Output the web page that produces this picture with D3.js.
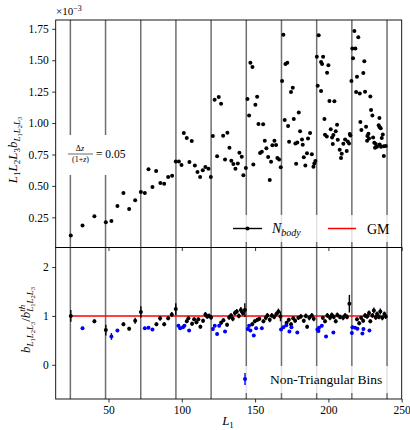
<!DOCTYPE html>
<html><head><meta charset="utf-8">
<script src="https://cdn.jsdelivr.net/npm/d3@7"></script>
<style>body{margin:0;background:#fff}svg{display:block}text{font-family:"Liberation Serif","DejaVu Serif",serif;fill:#000}</style>
</head><body>
<script>
// ---- data ----
const binEdges = [24,48,72,96,120,144,168,192,216,240];
const xTicks = [50,100,150,200,250];
const yTopTicks = [0.25,0.50,0.75,1.00,1.25,1.50,1.75];
const yBotTicks = [0,1,2];
// top panel: [L1, L1L2L3 b (x1e-3)]
const nbodyPoints = [
[24.3,0.106],[32.3,0.186],[40.4,0.258],[48.2,0.21],[52.0,0.22],[56.1,0.34],[60.2,0.443],[64.1,0.316],[68.2,0.385],
[72.1,0.451],[74.8,0.443],[77.3,0.632],[80.0,0.491],[82.5,0.618],[85.4,0.523],[88.0,0.517],[90.7,0.570],[93.4,0.581],
[95.9,0.695],[98.0,0.695],[99.8,0.666],[101.4,0.920],[103.4,0.881],[106.8,0.857],[105.2,0.690],[108.9,0.663],[110.7,0.610],
[112.5,0.570],[114.3,0.624],[116.1,0.650],[118.2,0.637],[119.8,0.570],[121.2,0.897],[122.4,1.185],[125.2,1.207],[126.8,1.153],
[124.1,0.735],[128.2,0.899],[131.1,0.923],[132.5,0.804],[129.5,0.711],[133.8,0.700],[135.2,0.674],[136.6,0.637],[138.2,0.679],
[139.3,0.764],[140.9,0.732],[142.0,0.584],[143.7,0.642],[144.8,1.191],[145.9,1.061],[146.8,1.480],[148.2,1.446],[148.8,0.671],
[150.2,1.146],[151.4,1.209],[152.3,0.992],[155.5,0.990],[153.4,0.761],[154.6,0.772],[156.6,0.859],[157.7,0.799],[158.9,0.730],
[160.0,0.547],[160.9,0.692],[161.8,0.823],[163.2,0.859],[164.3,0.825],[165.2,0.722],[166.4,0.711],[167.5,0.648],[168.4,1.334],
[169.3,1.702],[170.7,1.469],[172.0,1.480],[170.2,1.024],[172.5,0.976],[173.2,0.851],[174.5,1.247],[175.7,1.281],[176.4,1.032],
[179.8,1.085],[177.5,0.838],[178.8,0.846],[180.7,0.934],[182.0,0.870],[182.5,0.828],[186.1,0.878],[187.5,0.920],[178.0,0.676],
[183.2,0.729],[184.3,0.663],[185.4,0.759],[188.7,0.751],[189.8,0.652],[190.4,0.679],[191.1,0.698],[193.4,1.698],[192.1,1.528],
[196.4,1.528],[195.0,1.485],[195.7,1.469],[199.1,1.400],[200.0,1.459],[192.7,1.297],[195.0,1.255],[200.7,1.175],[204.1,1.173],
[197.3,1.032],[197.7,0.907],[198.9,0.894],[201.6,0.950],[202.5,0.886],[203.4,0.905],[205.0,0.934],[205.9,0.987],[203.0,0.833],
[206.4,0.867],[207.7,0.788],[209.1,0.756],[208.6,0.722],[210.2,0.835],[211.4,0.870],[212.5,0.777],[213.2,0.854],[214.1,0.838],
[214.6,0.913],[215.0,0.902],[215.7,1.334],[217.7,1.732],[220.4,1.682],[216.3,1.594],[218.4,1.594],[216.8,1.515],[224.5,1.491],
[223.8,1.398],[219.5,1.368],[218.9,1.247],[221.4,1.236],[225.0,1.249],[228.6,1.212],[229.1,1.103],[230.0,1.061],[234.8,1.040],
[221.8,1.008],[222.5,0.944],[225.7,0.971],[234.3,0.982],[235.0,0.966],[235.7,0.958],[226.6,0.897],[227.3,0.915],[226.4,0.859],
[227.7,0.878],[230.5,0.886],[231.3,0.843],[232.3,0.833],[233.2,0.811],[231.8,0.804],[236.4,0.881],[237.1,0.910],[235.0,0.830],
[235.9,0.811],[237.8,0.815],[239.1,0.817],[237.8,0.737]
];
// bottom panel, triangular bins: [L1, ratio, err]
const ratioTri = [
[24.3,1.00,0.12],[40.4,0.89,0.04],[48.2,0.71,0.11],[60.2,0.83,0.04],[64.1,0.74,0.04],[68.2,0.90,0.06],[72.1,1.08,0.12],
[82.7,0.83,0.04],[85.2,0.95,0.05],[88.0,0.83,0.04],[90.7,0.95,0.04],[93.2,1.03,0.05],[95.9,1.14,0.12],
[103.4,0.89,0.04],[104.5,0.95,0.04],[107.0,0.84,0.04],[108.4,0.93,0.04],[110.0,0.87,0.04],[111.3,0.93,0.04],[112.7,0.78,0.04],
[114.5,0.90,0.04],[116.1,1.03,0.05],[117.3,0.99,0.05],[118.6,1.00,0.05],[120.0,0.97,0.05],
[126.8,0.86,0.04],[128.4,0.91,0.04],[130.9,0.82,0.04],[132.3,0.97,0.05],[133.6,1.01,0.05],[134.8,0.94,0.05],[136.2,1.06,0.05],
[137.5,1.09,0.05],[138.9,1.00,0.05],[140.3,1.12,0.06],[141.6,1.06,0.05],[143.0,1.12,0.14],
[148.0,0.83,0.04],[149.8,0.89,0.04],[151.6,0.92,0.04],[152.9,0.94,0.04],[155.7,0.89,0.04],[157.3,0.96,0.05],[158.4,1.01,0.05],
[160.0,0.92,0.05],[161.4,1.01,0.05],[163.0,0.98,0.05],[164.5,1.04,0.05],[165.9,1.09,0.06],[167.3,0.99,0.10],
[171.5,0.86,0.04],[173.0,0.92,0.04],[174.5,0.83,0.04],[176.0,0.95,0.04],[177.3,0.90,0.04],[179.5,0.96,0.04],[181.2,0.99,0.05],
[183.2,0.90,0.04],[184.6,1.00,0.05],[185.5,0.78,0.04],[187.0,0.96,0.05],[188.7,1.01,0.05],[190.0,0.94,0.05],
[196.2,0.96,0.04],[197.7,0.89,0.04],[199.3,1.01,0.05],[201.1,0.96,0.05],[202.3,1.02,0.05],[203.7,0.98,0.05],[205.0,0.89,0.04],
[206.1,1.02,0.05],[207.9,0.98,0.05],[210.0,0.96,0.05],[211.4,1.01,0.05],[212.7,0.98,0.05],[214.3,1.25,0.18],
[219.5,0.93,0.04],[221.0,0.85,0.04],[222.3,0.96,0.04],[223.7,0.90,0.04],[225.0,1.01,0.05],[226.4,0.99,0.05],[227.7,1.06,0.05],
[228.6,0.89,0.04],[230.0,1.01,0.05],[231.0,1.11,0.06],[232.3,0.97,0.05],[233.2,1.04,0.05],[234.5,0.98,0.05],[235.4,1.09,0.06],
[236.8,0.96,0.05],[238.2,1.04,0.05],[239.1,0.99,0.05]
];
// bottom panel, non-triangular bins: [L1, ratio, err]
const ratioNonTri = [
[32.3,0.75,0.03],[52.0,0.58,0.07],[56.1,0.70,0.03],[74.8,0.75,0.03],[77.3,0.76,0.03],[80.0,0.72,0.03],
[97.7,0.80,0.03],[98.9,0.75,0.03],[100.8,0.77,0.03],[101.8,0.80,0.03],[105.0,0.70,0.03],
[121.2,0.73,0.03],[122.5,0.80,0.03],[124.1,0.63,0.03],[125.5,0.80,0.03],[129.5,0.68,0.03],
[145.0,0.73,0.03],[145.9,0.80,0.03],[146.8,0.70,0.03],[149.1,0.60,0.03],[150.7,0.75,0.03],[154.6,0.75,0.03],
[167.7,0.72,0.03],[169.3,0.77,0.03],[171.3,0.81,0.03],[174.8,0.77,0.03],[178.8,0.66,0.03],[173.4,0.68,0.03],
[192.5,0.72,0.03],[193.6,0.76,0.03],[195.5,0.80,0.03],[198.4,0.58,0.03],[203.4,0.66,0.03],[193.2,0.69,0.03],
[216.4,0.77,0.03],[218.2,0.76,0.03],[219.8,0.74,0.03],[223.2,0.64,0.03],[223.9,0.73,0.03],[228.0,0.70,0.03],[216.0,0.65,0.03]
];
const gmRatio = 1;

// ---- layout ----
const W=410,H=430;
const L=55.7,R=401.7,T1=20,B1=247.5,B2=399;
const x=d3.scaleLinear([14,250],[L,R]);
const yT=d3.scaleLinear([0.01,1.82],[B1,T1]);
const yB=d3.scaleLinear([-0.7,2.4],[B2,B1]);

const svg=d3.select("body").append("svg").attr("width",W).attr("height",H);

function richText(g, x0, y0, segs, anchor, rotate){
  const t=g.append("text").attr("text-anchor",anchor||"start");
  if(rotate) t.attr("transform",`translate(${x0},${y0}) rotate(${rotate})`);
  else t.attr("x",x0).attr("y",y0);
  let prev=0;
  segs.forEach(s=>{
    const sp=t.append("tspan").text(s.t).attr("font-size",s.size).attr("font-style",s.it?"italic":"normal");
    const off=s.off||0; sp.attr("dy",off-prev); prev=off;
    if(s.dx) sp.attr("dx",s.dx);
  });
  return t;
}

// vertical bin lines
[[T1,B1],[B1,B2]].forEach(([a,b])=>{
  svg.append("g").selectAll("line").data(binEdges).join("line")
   .attr("x1",d=>x(d)).attr("x2",d=>x(d)).attr("y1",a).attr("y2",b)
   .attr("stroke","#6f6f6f").attr("stroke-width",1.5);
});

// top points
svg.append("g").selectAll("circle").data(nbodyPoints).join("circle")
 .attr("cx",d=>x(d[0])).attr("cy",d=>yT(d[1])).attr("r",2).attr("fill","#000");

// GM line in ratio
svg.append("line").attr("x1",x(binEdges[0])).attr("x2",x(binEdges[binEdges.length-1]))
 .attr("y1",yB(gmRatio)).attr("y2",yB(gmRatio)).attr("stroke","#ff0000").attr("stroke-width",1.5);

function errPts(data,color){
  const g=svg.append("g");
  g.selectAll("line").data(data).join("line")
   .attr("x1",d=>x(d[0])).attr("x2",d=>x(d[0])).attr("y1",d=>yB(d[1]-d[2])).attr("y2",d=>yB(d[1]+d[2]))
   .attr("stroke",color).attr("stroke-width",1.4);
  g.selectAll("circle").data(data).join("circle")
   .attr("cx",d=>x(d[0])).attr("cy",d=>yB(d[1])).attr("r",2).attr("fill",color);
}
errPts(ratioTri,"#000");
errPts(ratioNonTri,"#0000ff");

// annotation box
svg.append("rect").attr("x",62).attr("y",135).attr("width",72).attr("height",40).attr("fill","#fff");
svg.append("text").attr("x",80).attr("y",151).attr("text-anchor","middle").attr("font-size",8)
  .html('Δ<tspan font-style="italic">z</tspan>');
svg.append("line").attr("x1",68).attr("x2",93).attr("y1",154).attr("y2",154).attr("stroke","#000").attr("stroke-width",0.6);
svg.append("text").attr("x",80.5).attr("y",162).attr("text-anchor","middle").attr("font-size",8)
  .html('(1+<tspan font-style="italic">z</tspan>)');
svg.append("text").attr("x",96).attr("y",158).attr("font-size",11.5).text("= 0.05");

// legends
svg.append("rect").attr("x",226).attr("y",215).attr("width",170).attr("height",27).attr("fill","#fff").attr("fill-opacity",0.8);
svg.append("line").attr("x1",233).attr("x2",262).attr("y1",228.5).attr("y2",228.5).attr("stroke","#000").attr("stroke-width",1.4);
svg.append("circle").attr("cx",247.5).attr("cy",228.5).attr("r",2).attr("fill","#000");
richText(svg,272,233,[{t:"N",size:14,it:true},{t:"body",size:10,it:true,off:2.5}]);
svg.append("line").attr("x1",328).attr("x2",356).attr("y1",228.5).attr("y2",228.5).attr("stroke","#ff0000").attr("stroke-width",1.5);
svg.append("text").attr("x",367).attr("y",233.5).attr("font-size",14).text("GM");

svg.append("rect").attr("x",236).attr("y",366).attr("width",160).attr("height",27).attr("fill","#fff").attr("fill-opacity",0.8);
svg.append("line").attr("x1",245).attr("x2",245).attr("y1",373).attr("y2",385).attr("stroke","#0000ff").attr("stroke-width",1.4);
svg.append("circle").attr("cx",245).attr("cy",379).attr("r",2).attr("fill","#0000ff");
svg.append("text").attr("x",270).attr("y",383.5).attr("font-size",13.5).text("Non-Triangular Bins");

// frames
svg.append("rect").attr("x",L).attr("y",T1).attr("width",R-L).attr("height",B1-T1).attr("fill","none").attr("stroke","#000").attr("stroke-width",0.9);
svg.append("rect").attr("x",L).attr("y",B1).attr("width",R-L).attr("height",B2-B1).attr("fill","none").attr("stroke","#000").attr("stroke-width",0.9);

// axes
function styleAxis(g){ g.select(".domain").remove(); g.selectAll("text").attr("font-size",11.5).attr("font-family",'"Liberation Serif",serif'); g.selectAll("line").attr("stroke-width",0.8); }
svg.append("g").attr("transform",`translate(${L},0)`).call(d3.axisLeft(yT).tickValues(yTopTicks).tickFormat(d3.format(".2f")).tickSize(3.5).tickPadding(3.5)).call(styleAxis);
svg.append("g").attr("transform",`translate(${L},0)`).call(d3.axisLeft(yB).tickValues(yBotTicks).tickFormat(d3.format("d")).tickSize(3.5).tickPadding(3.5)).call(styleAxis);
svg.append("g").attr("transform",`translate(0,${B2})`).call(d3.axisBottom(x).tickValues(xTicks).tickFormat(d3.format("d")).tickSize(3.5).tickPadding(3.5)).call(styleAxis);
svg.append("g").attr("transform",`translate(0,${B1})`).call(d3.axisBottom(x).tickValues(xTicks).tickFormat("").tickSize(3.5)).call(g=>{g.select(".domain").remove();g.selectAll("line").attr("stroke-width",0.8);});

// offset label
richText(svg,56,15,[{t:"×10",size:11},{t:"−3",size:8,off:-4.5}]);

// axis labels
richText(svg,228,425,[{t:"L",size:13,it:true},{t:"1",size:9,off:2.5}],"middle");
const Lsub=(off1,off2,s1,s2)=>[1,2,3].flatMap(i=>[{t:"L",size:s1,it:true,off:off1},{t:String(i),size:s2,off:off2}]);
richText(svg,17,150,[...Lsub(0,2.5,13,9),{t:"b",size:13,it:true,off:0},...Lsub(2.5,4.5,9,6.5)],"middle",-90);
richText(svg,30,320,[{t:"b",size:13,it:true,off:0},...Lsub(2.5,4.5,9,6.5),{t:"/",size:13,off:0},{t:"b",size:13,it:true,off:0},{t:"th",size:9,it:true,off:-5},{t:"L",size:9,it:true,off:3,dx:-7},{t:"1",size:6.5,off:5},{t:"L",size:9,it:true,off:3},{t:"2",size:6.5,off:5},{t:"L",size:9,it:true,off:3},{t:"3",size:6.5,off:5}],"middle",-90);
</script>
</body></html>
